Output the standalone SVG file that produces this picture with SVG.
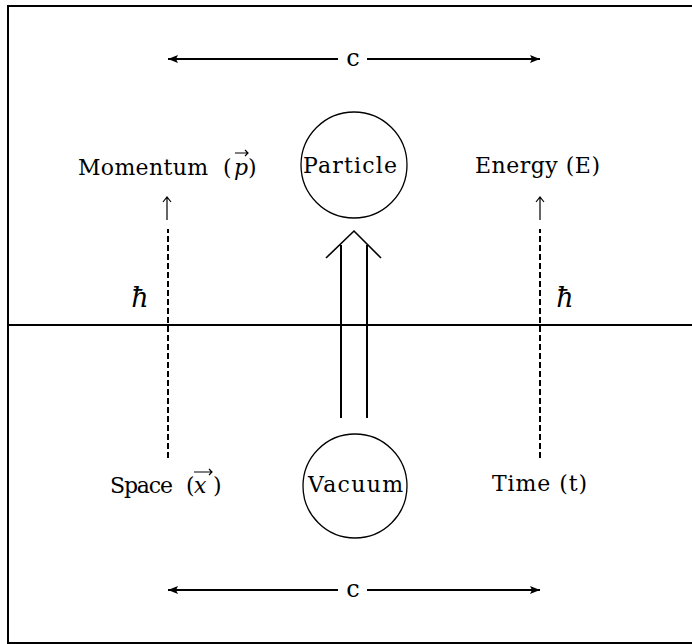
<svg xmlns="http://www.w3.org/2000/svg" width="692" height="644" viewBox="0 0 692 644">
<defs>
<style>
text{font-family:"DejaVu Serif","Liberation Serif",serif;font-size:22px;fill:#000}
.it{font-style:italic}
.cc{font-size:24px}
.hb{font-size:27px;font-style:italic}
.ln{stroke:#000;fill:none}
.dash{stroke:#000;stroke-width:2;stroke-dasharray:6 3;fill:none}
</style>
<marker id="ah" viewBox="0 0 10 8" refX="10" refY="4" markerWidth="10" markerHeight="8" markerUnits="userSpaceOnUse" orient="auto">
<path d="M0,0 L10,4 L0,8 L2,4 Z" fill="#000"/>
</marker>
</defs>
<rect width="692" height="644" fill="#fff"/>
<g id="frame">
<path class="ln" stroke-width="2" d="M692,6 H8 V643 H692"/>
<line class="ln" stroke-width="2" x1="8" y1="325" x2="692" y2="325"/>
</g>
<g id="connectors">
<line class="ln" stroke-width="2" x1="338" y1="59" x2="168" y2="59" marker-end="url(#ah)"/>
<line class="ln" stroke-width="2" x1="367" y1="59" x2="540" y2="59" marker-end="url(#ah)"/>
<line class="ln" stroke-width="2" x1="338" y1="590" x2="168" y2="590" marker-end="url(#ah)"/>
<line class="ln" stroke-width="2" x1="367" y1="590" x2="540" y2="590" marker-end="url(#ah)"/>
<line class="dash" x1="168" y1="458" x2="168" y2="229"/>
<line class="dash" x1="540" y1="458" x2="540" y2="229"/>
<path class="ln" stroke-width="1.2" d="M167,220 V197 M163,202 L167,197 L171,202"/>
<path class="ln" stroke-width="1.2" d="M540,220 V197 M536,202 L540,197 L544,202"/>
<path class="ln" stroke-width="2" d="M341,418 V245 M367,418 V245"/>
<path class="ln" stroke-width="1.6" d="M326,258 L354,231 L381,258"/>
</g>
<g id="c-top"><text class="cc" x="353" y="66" text-anchor="middle">c</text></g>
<g id="c-bottom"><text class="cc" x="353" y="597" text-anchor="middle">c</text></g>
<g id="hbar-left"><text class="hb" x="140" y="307" text-anchor="middle">ħ</text></g>
<g id="hbar-right"><text class="hb" x="565" y="307" text-anchor="middle">ħ</text></g>
<g id="particle">
<circle class="ln" stroke-width="1.3" cx="354" cy="165" r="53"/>
<text x="303" y="173" textLength="94" lengthAdjust="spacing">Particle</text>
</g>
<g id="vacuum">
<circle class="ln" stroke-width="1.3" cx="355" cy="486" r="52"/>
<text x="308" y="492" textLength="95" lengthAdjust="spacing">Vacuum</text>
</g>
<g id="momentum">
<text x="78" y="175" textLength="130" lengthAdjust="spacing">Momentum</text>
<text x="223" y="175">(</text>
<text class="it" x="234" y="175">p</text>
<text x="248" y="175">)</text>
<path class="ln" stroke-width="1.2" d="M235,153 H248 M245,150 L248,153 L245,156"/>
</g>
<g id="energy">
<text x="475" y="173" textLength="125" lengthAdjust="spacing">Energy (E)</text>
</g>
<g id="space">
<text x="110" y="493" textLength="63" lengthAdjust="spacing">Space</text>
<text x="186" y="493">(</text>
<text class="it" x="194" y="493">x</text>
<text x="213" y="493">)</text>
<path class="ln" stroke-width="1.2" d="M194,472 H212 M209,469 L212,472 L209,475"/>
</g>
<g id="time">
<text x="492" y="491" textLength="95" lengthAdjust="spacing">Time (t)</text>
</g>
</svg>
